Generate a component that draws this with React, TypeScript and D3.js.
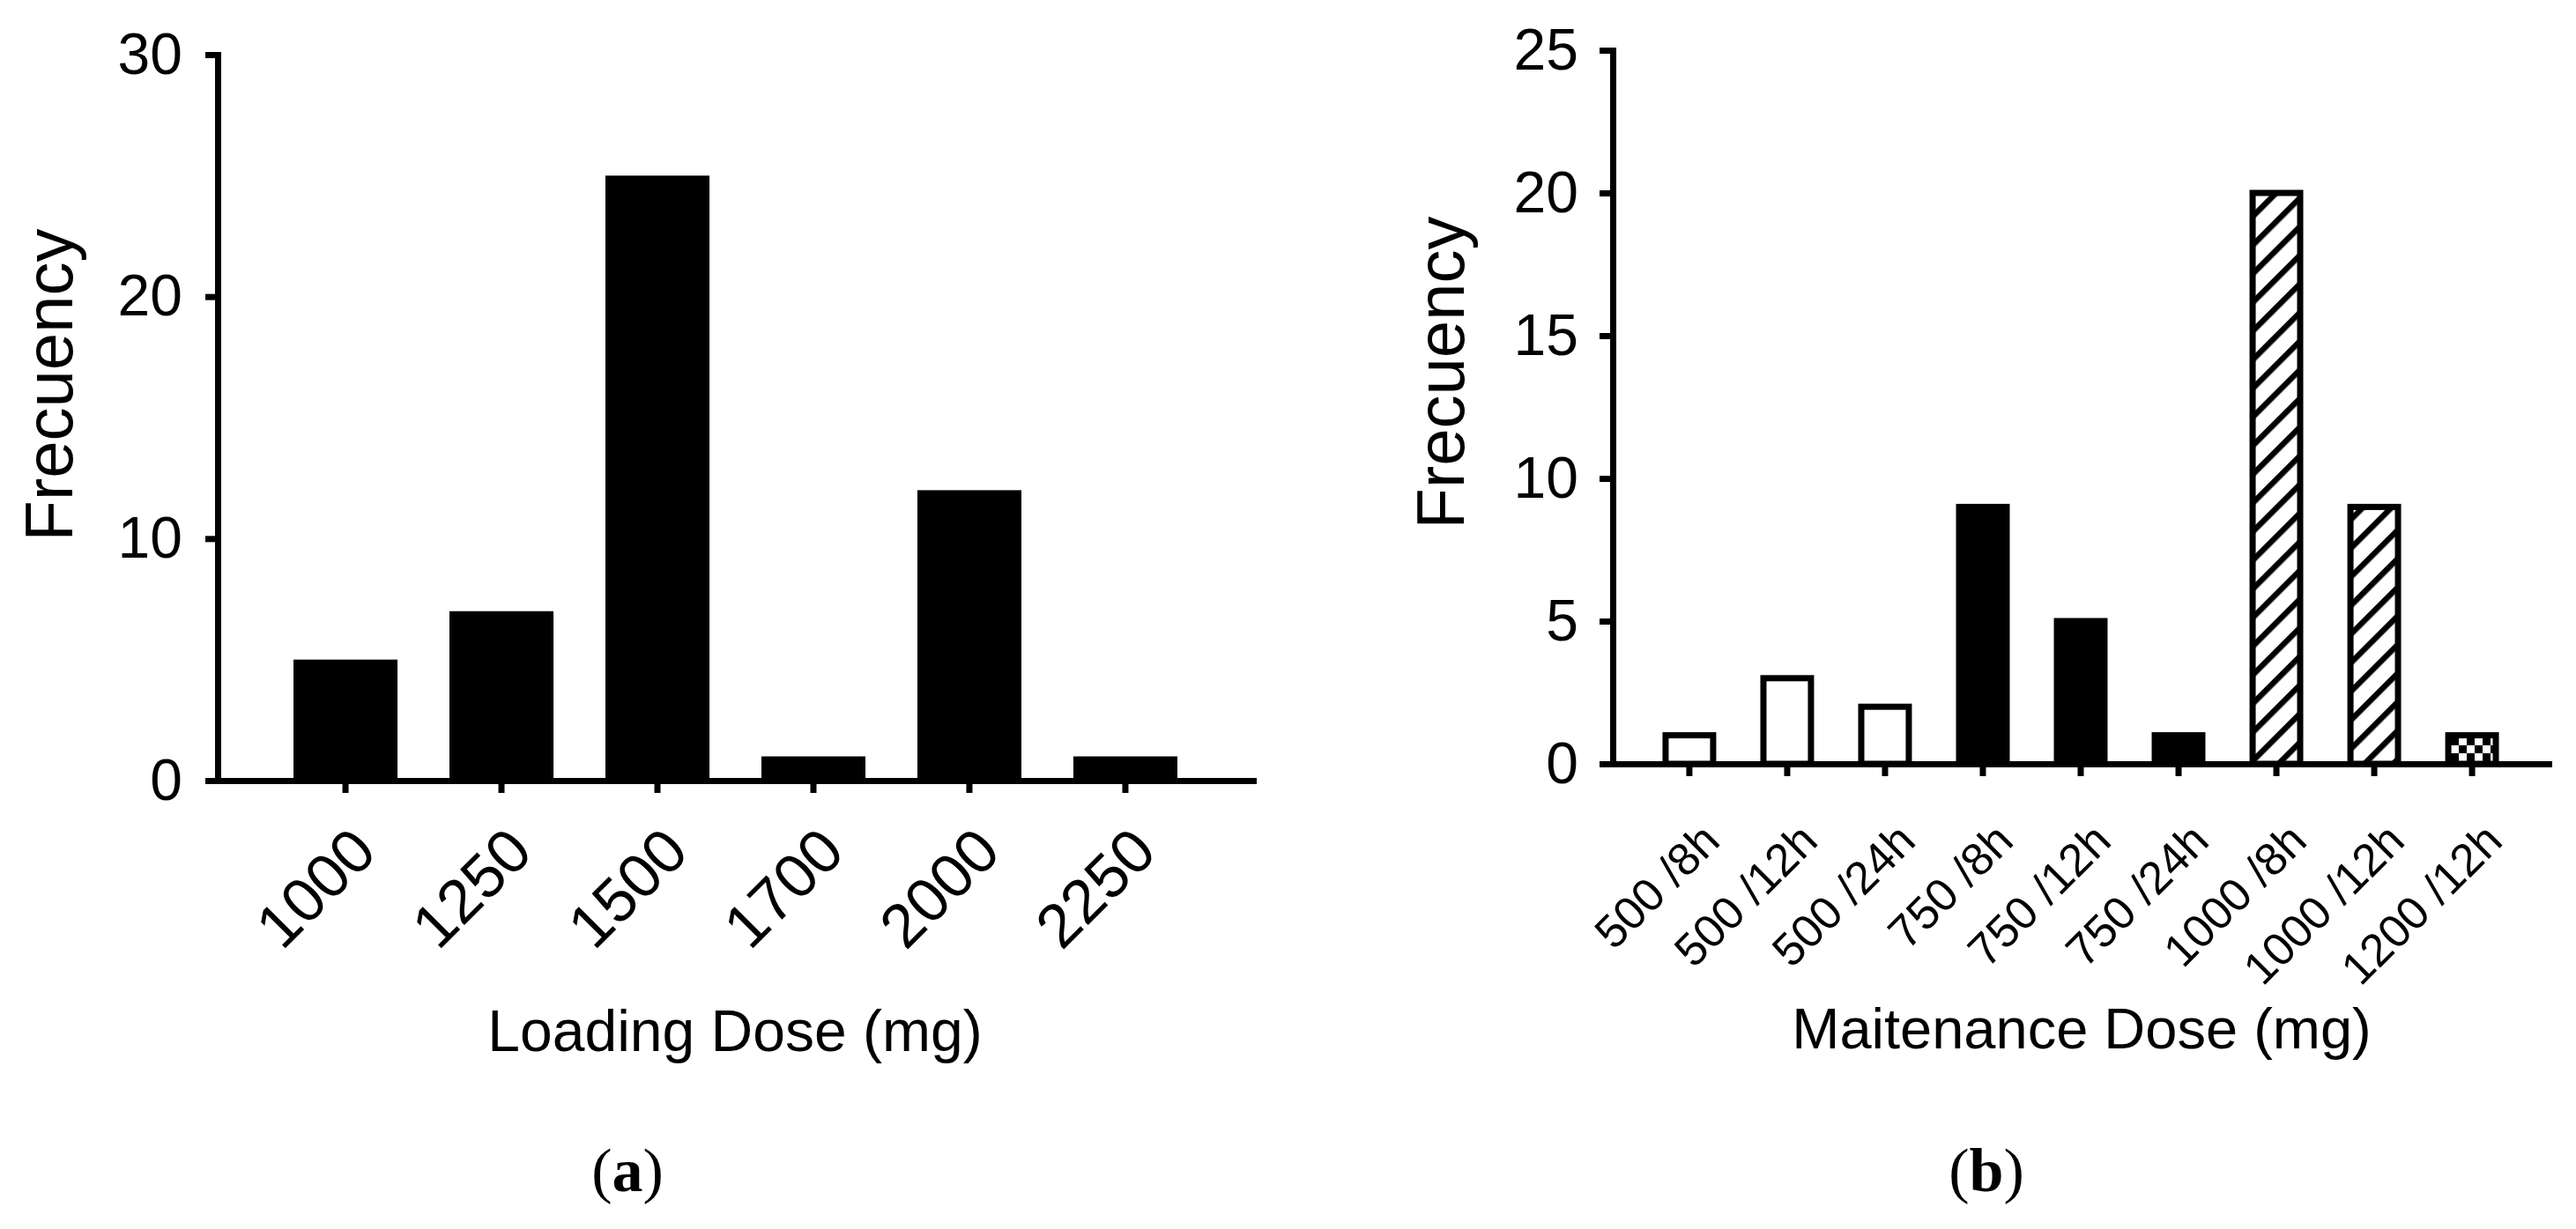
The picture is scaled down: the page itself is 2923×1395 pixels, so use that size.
import React, { useEffect, useRef } from 'react';
import * as d3 from 'd3';

// panel (a)
const loadingDoses = ['1000', '1250', '1500', '1700', '2000', '2250'];
const loadingFreq = [5, 7, 25, 1, 12, 1];
const loadingTicks = [0, 10, 20, 30];

// panel (b)
const maintDoses = ['500 /8h', '500 /12h', '500 /24h', '750 /8h', '750 /12h', '750 /24h', '1000 /8h', '1000 /12h', '1200 /12h'];
const maintFreq = [1, 3, 2, 9, 5, 1, 20, 9, 1];
const maintStyle = ['open', 'open', 'open', 'solid', 'solid', 'solid', 'hatch', 'hatch', 'check'];
const maintTicks = [0, 5, 10, 15, 20, 25];

const SANS = '"Liberation Sans", Arial, Helvetica, sans-serif';
const SERIF = '"Liberation Serif", "Times New Roman", serif';

export default function App() {
    const svgRef = useRef<SVGSVGElement>(null);
    const width = 2923;
    const height = 1395;

    useEffect(() => {
        const svg = d3.select(svgRef.current);
        svg.selectAll('*').remove();

        svg.append('rect').attr('width', width).attr('height', height).attr('fill', '#fff');

        // fill patterns
        const defs = svg.append('defs');
        const hatch = defs.append('pattern')
            .attr('id', 'hatch')
            .attr('patternUnits', 'userSpaceOnUse')
            .attr('width', 23).attr('height', 23)
            .attr('patternTransform', 'rotate(45)');
        hatch.append('rect').attr('width', 23).attr('height', 23).attr('fill', '#fff');
        hatch.append('line').attr('x1', 3).attr('x2', 3).attr('y1', 0).attr('y2', 23)
            .attr('stroke', '#000').attr('stroke-width', 7);

        const check = defs.append('pattern')
            .attr('id', 'check')
            .attr('patternUnits', 'userSpaceOnUse')
            .attr('width', 18).attr('height', 18);
        check.append('rect').attr('width', 18).attr('height', 18).attr('fill', '#fff');
        check.append('rect').attr('width', 9).attr('height', 9).attr('fill', '#000');
        check.append('rect').attr('x', 9).attr('y', 9).attr('width', 9).attr('height', 9).attr('fill', '#000');

        const styleAxis = (g: any) => {
            g.attr('font-family', SANS);
            g.selectAll('path, line').attr('stroke', '#000').attr('stroke-width', 7);
            g.select('.domain').attr('stroke-linecap', 'square');
            g.selectAll('text').attr('fill', '#000');
        };

        // ---------- panel (a) ----------
        const aLeft = 247, aRight = 1422, aTop = 62, aBase = 886;
        const xa = d3.scaleBand().domain(loadingDoses).range([aLeft, aRight])
            .paddingInner(0.333).paddingOuter(0.486);
        const ya = d3.scaleLinear().domain([0, 30]).range([aBase, aTop]);

        const ga = svg.append('g');
        ga.selectAll('rect.bar')
            .data(loadingFreq)
            .join('rect')
            .attr('class', 'bar')
            .attr('x', (d, i) => xa(loadingDoses[i]) as number)
            .attr('width', xa.bandwidth())
            .attr('y', d => ya(d))
            .attr('height', d => aBase - ya(d))
            .attr('fill', '#000');

        const axYa = ga.append('g').attr('transform', `translate(${aLeft},0)`)
            .call(d3.axisLeft(ya).tickValues(loadingTicks).tickSize(14).tickSizeOuter(0).tickPadding(26));
        styleAxis(axYa);
        axYa.selectAll('text').attr('font-size', 66);

        const axXa = ga.append('g').attr('transform', `translate(0,${aBase})`)
            .call(d3.axisBottom(xa).tickSize(14).tickSizeOuter(0));
        styleAxis(axXa);
        axXa.selectAll('text')
            .attr('x', 0).attr('y', 0).attr('dy', 0)
            .attr('font-size', 70)
            .attr('text-anchor', 'end')
            .attr('transform', 'translate(38,84) rotate(-45)');

        ga.append('text')
            .attr('transform', `translate(82,437) rotate(-90)`)
            .attr('text-anchor', 'middle')
            .attr('font-family', SANS).attr('font-size', 76)
            .text('Frecuency');
        ga.append('text')
            .attr('x', 834).attr('y', 1193)
            .attr('text-anchor', 'middle')
            .attr('font-family', SANS).attr('font-size', 66)
            .text('Loading Dose (mg)');
        const la = ga.append('text')
            .attr('x', 712).attr('y', 1352)
            .attr('text-anchor', 'middle')
            .attr('font-family', SERIF).attr('font-size', 70);
        la.append('tspan').text('(');
        la.append('tspan').attr('font-weight', 'bold').text('a');
        la.append('tspan').text(')');

        // ---------- panel (b) ----------
        const bLeft = 1830, bRight = 2892, bTop = 57, bBase = 867;
        const xb = d3.scaleBand().domain(maintDoses).range([bLeft, bRight])
            .paddingInner(0.514).paddingOuter(0.54);
        const yb = d3.scaleLinear().domain([0, 25]).range([bBase, bTop]);

        const fillFor = (s: string) =>
            s === 'solid' ? '#000' : s === 'hatch' ? 'url(#hatch)' : s === 'check' ? 'url(#check)' : '#fff';

        const gb = svg.append('g');
        gb.selectAll('rect.bar')
            .data(maintFreq)
            .join('rect')
            .attr('class', 'bar')
            .attr('x', (d, i) => xb(maintDoses[i]) as number)
            .attr('width', xb.bandwidth())
            .attr('y', d => yb(d))
            .attr('height', d => bBase - yb(d))
            .attr('fill', (d, i) => fillFor(maintStyle[i]))
            .attr('stroke', '#000')
            .attr('stroke-width', 7);

        const axYb = gb.append('g').attr('transform', `translate(${bLeft},0)`)
            .call(d3.axisLeft(yb).tickValues(maintTicks).tickSize(15).tickSizeOuter(0).tickPadding(24));
        styleAxis(axYb);
        axYb.selectAll('text').attr('font-size', 66);

        const axXb = gb.append('g').attr('transform', `translate(0,${bBase})`)
            .call(d3.axisBottom(xb).tickSize(14).tickSizeOuter(0));
        styleAxis(axXb);
        axXb.selectAll('text')
            .attr('x', 0).attr('y', 0).attr('dy', 0)
            .attr('font-size', 52)
            .attr('text-anchor', 'end')
            .attr('transform', 'translate(37,90) rotate(-45)');

        gb.append('text')
            .attr('transform', `translate(1661,423) rotate(-90)`)
            .attr('text-anchor', 'middle')
            .attr('font-family', SANS).attr('font-size', 76)
            .text('Frecuency');
        gb.append('text')
            .attr('x', 2362).attr('y', 1190)
            .attr('text-anchor', 'middle')
            .attr('font-family', SANS).attr('font-size', 65)
            .text('Maitenance Dose (mg)');
        const lb = gb.append('text')
            .attr('x', 2254).attr('y', 1352)
            .attr('text-anchor', 'middle')
            .attr('font-family', SERIF).attr('font-size', 70);
        lb.append('tspan').text('(');
        lb.append('tspan').attr('font-weight', 'bold').text('b');
        lb.append('tspan').text(')');
    }, []);

    return (
        <svg
            ref={svgRef}
            width={width}
            height={height}
            style={{ position: 'absolute', left: 0, top: 0 }}
        />
    );
}
